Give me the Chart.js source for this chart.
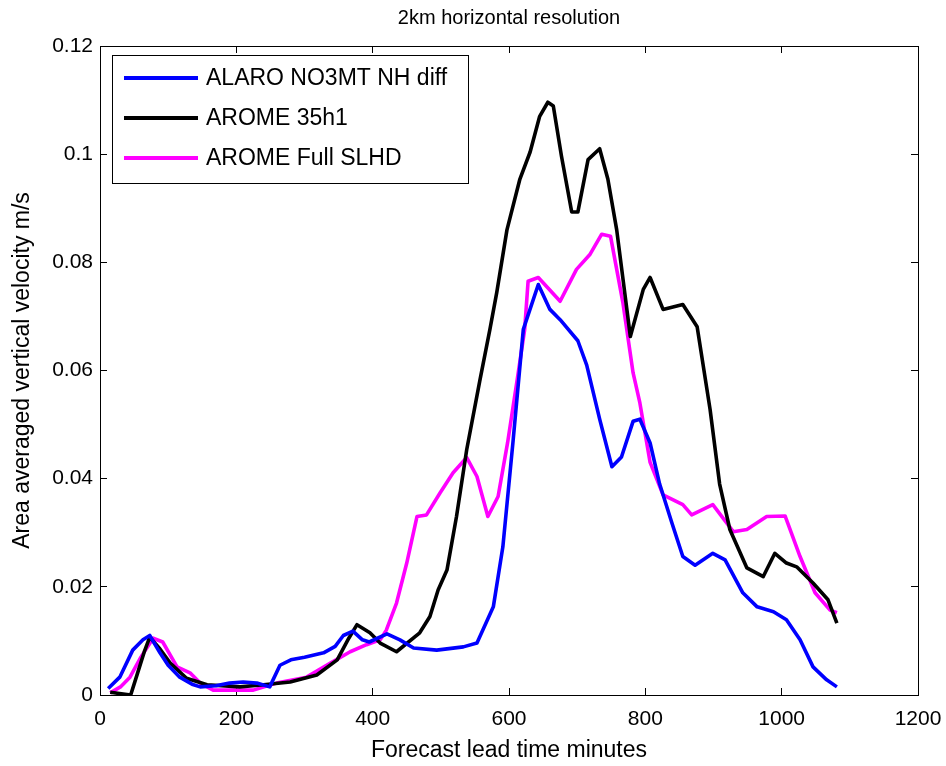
<!DOCTYPE html>
<html>
<head>
<meta charset="utf-8">
<script src="https://cdn.jsdelivr.net/npm/chart.js@4/dist/chart.umd.min.js"></script>
<style>
  html, body { margin: 0; padding: 0; background: #fff; }
  #wrap { width: 946px; height: 766px; }
</style>
</head>
<body>
<div id="wrap"><canvas id="c" width="946" height="766"></canvas></div>
<script>
const chartTitle = "2km horizontal resolution";
const xAxisTitle = "Forecast lead time minutes";
const yAxisTitle = "Area averaged vertical velocity m/s";
const xTicks = [0, 200, 400, 600, 800, 1000, 1200];
const yTicks = [0, 0.02, 0.04, 0.06, 0.08, 0.1, 0.12];
const seriesNames = ["ALARO NO3MT NH diff", "AROME 35h1", "AROME Full SLHD"];
const seriesColors = ["#0000ff", "#000000", "#ff00ff"];

const alaroMinutes = [12, 29, 48, 63, 73, 88, 100, 117, 135, 147, 170, 190, 210, 230, 249, 264, 280, 300, 328, 345, 357, 371, 385, 395, 421, 440, 460, 494, 533, 553, 577, 591, 606, 621, 643, 660, 675, 701, 714, 733, 751, 765, 782, 792, 807, 821, 839, 855, 873, 899, 917, 943, 964, 988, 1007, 1027, 1046, 1066, 1081];
const alaroVelocity = [0.0012, 0.0033, 0.0083, 0.0102, 0.011, 0.0078, 0.0055, 0.0033, 0.002, 0.0015, 0.0017, 0.0022, 0.0024, 0.0022, 0.0015, 0.0055, 0.0065, 0.007, 0.0078, 0.009, 0.011, 0.0118, 0.0102, 0.0098, 0.0113, 0.0102, 0.0087, 0.0083, 0.0089, 0.0096, 0.0163, 0.0274, 0.047, 0.0676, 0.0759, 0.0713, 0.0694, 0.0655, 0.061, 0.051, 0.0422, 0.044, 0.0506, 0.051, 0.0466, 0.039, 0.0318, 0.0256, 0.024, 0.0262, 0.025, 0.0189, 0.0163, 0.0154, 0.0139, 0.0102, 0.0052, 0.0028, 0.0015];

const arome35Minutes = [15, 45, 55, 65, 73, 88, 103, 127, 157, 205, 240, 279, 318, 348, 365, 377, 396, 411, 435, 469, 484, 496, 509, 523, 538, 557, 572, 582, 597, 616, 631, 645, 657, 665, 677, 692, 701, 716, 733, 745, 758, 778, 797, 807, 826, 855, 876, 895, 909, 924, 949, 973, 990, 1007, 1022, 1046, 1068, 1081];
const arome35Velocity = [0.0005, 0, 0.004, 0.008, 0.0107, 0.0085, 0.0059, 0.0031, 0.0019, 0.0015, 0.0019, 0.0024, 0.0037, 0.0065, 0.0105, 0.013, 0.0115, 0.0096, 0.008, 0.0115, 0.0145, 0.0194, 0.0231, 0.033, 0.0454, 0.058, 0.0676, 0.0744, 0.086, 0.0954, 0.1004, 0.107, 0.1096, 0.1089, 0.0996, 0.0893, 0.0893, 0.099, 0.101, 0.0954, 0.086, 0.0663, 0.075, 0.0772, 0.0713, 0.0722, 0.0681, 0.0528, 0.039, 0.0306, 0.0235, 0.0219, 0.0262, 0.0244, 0.0237, 0.0207, 0.0176, 0.0133];

const aromeSlhdMinutes = [15, 30, 44, 60, 78, 92, 113, 132, 147, 166, 225, 259, 303, 338, 367, 391, 411, 420, 435, 450, 465, 479, 499, 518, 538, 553, 569, 584, 598, 612, 623, 628, 643, 675, 699, 719, 736, 749, 767, 782, 792, 807, 826, 855, 868, 899, 929, 949, 978, 1005, 1027, 1049, 1071, 1081];
const aromeSlhdVelocity = [0.0004, 0.0015, 0.0033, 0.007, 0.0105, 0.0098, 0.0052, 0.0041, 0.0022, 0.0009, 0.0009, 0.0022, 0.0033, 0.0059, 0.008, 0.0093, 0.0102, 0.012, 0.017, 0.0244, 0.033, 0.0333, 0.0374, 0.0411, 0.0439, 0.0404, 0.033, 0.0367, 0.0467, 0.0583, 0.0676, 0.0765, 0.0772, 0.0728, 0.0787, 0.0815, 0.0852, 0.0848, 0.0726, 0.0596, 0.054, 0.043, 0.037, 0.0352, 0.0333, 0.0352, 0.0302, 0.0306, 0.033, 0.0331, 0.0256, 0.0189, 0.0157, 0.0152];

function pts(xs, ys) { return xs.map((x, i) => ({ x: x, y: ys[i] })); }

const FONT = "'Liberation Sans', Arial, Helvetica, sans-serif";

const legendBox = {
  id: 'legendBox',
  afterDatasetsDraw(chart) {
    const ctx = chart.ctx;
    const a = chart.chartArea;
    const x0 = a.left + 12, y0 = a.top + 9, w = 356, h = 128;
    ctx.save();
    ctx.fillStyle = '#fff';
    ctx.fillRect(x0, y0, w, h);
    ctx.strokeStyle = '#000';
    ctx.lineWidth = 1;
    ctx.strokeRect(x0 + 0.5, y0 + 0.5, w, h);
    ctx.font = '23px ' + FONT;
    ctx.textBaseline = 'middle';
    ctx.textAlign = 'left';
    chart.data.datasets.forEach((ds, i) => {
      const cy = y0 + 23 + i * 40;
      ctx.strokeStyle = ds.borderColor;
      ctx.lineWidth = 4;
      ctx.beginPath();
      ctx.moveTo(x0 + 12, cy);
      ctx.lineTo(x0 + 86, cy);
      ctx.stroke();
      ctx.fillStyle = '#000';
      ctx.fillText(ds.label, x0 + 94, cy + 1);
    });
    ctx.restore();
  }
};

const tickFmt = v => String(+Number(v).toFixed(4));
const noPad = s => { s.paddingLeft = 0; s.paddingRight = 0; s.paddingTop = 0; s.paddingBottom = 0; };

new Chart(document.getElementById('c'), {
  type: 'scatter',
  data: {
    datasets: [
      { label: seriesNames[0], data: pts(alaroMinutes, alaroVelocity), borderColor: seriesColors[0], backgroundColor: seriesColors[0] },
      { label: seriesNames[1], data: pts(arome35Minutes, arome35Velocity), borderColor: seriesColors[1], backgroundColor: seriesColors[1] },
      { label: seriesNames[2], data: pts(aromeSlhdMinutes, aromeSlhdVelocity), borderColor: seriesColors[2], backgroundColor: seriesColors[2] }
    ].map(d => Object.assign(d, { showLine: true, borderWidth: 3.6, pointRadius: 0, tension: 0, borderJoinStyle: 'round' }))
  },
  options: {
    responsive: false,
    animation: false,
    layout: { padding: 0 },
    plugins: {
      legend: { display: false },
      tooltip: { enabled: false },
      title: { display: false }
    },
    scales: {
      x: {
        type: 'linear', position: 'bottom', min: 0, max: 1200,
        afterBuildTicks: s => { s.ticks = xTicks.map(v => ({ value: v })); },
        afterFit: s => { s.height = 71; noPad(s); },
        ticks: { color: '#000', font: { family: FONT, size: 21 }, padding: 19, callback: tickFmt },
        grid: { drawOnChartArea: false, tickLength: -7, color: '#000' },
        border: { color: '#000', width: 1 },
        title: { display: true, text: xAxisTitle, color: '#000', font: { family: FONT, size: 23 }, padding: { top: 0, bottom: 2 } }
      },
      x2: {
        type: 'linear', position: 'top', min: 0, max: 1200,
        afterBuildTicks: s => { s.ticks = xTicks.map(v => ({ value: v })); },
        afterFit: s => { s.height = 46; noPad(s); },
        ticks: { display: false },
        grid: { drawOnChartArea: false, tickLength: -7, color: '#000' },
        border: { color: '#000', width: 1 },
        title: { display: true, text: chartTitle, color: '#000', font: { family: FONT, size: 20 }, padding: { top: 6, bottom: 0 } }
      },
      y: {
        type: 'linear', position: 'left', min: 0, max: 0.12,
        afterBuildTicks: s => { s.ticks = yTicks.map(v => ({ value: v })); },
        afterFit: s => { s.width = 100; noPad(s); },
        ticks: { color: '#000', font: { family: FONT, size: 21 }, padding: 14, callback: tickFmt },
        grid: { drawOnChartArea: false, tickLength: -7, color: '#000' },
        border: { color: '#000', width: 1 },
        title: { display: true, text: yAxisTitle, color: '#000', font: { family: FONT, size: 23 }, padding: { top: 9, bottom: 0 } }
      },
      y2: {
        type: 'linear', position: 'right', min: 0, max: 0.12,
        afterBuildTicks: s => { s.ticks = yTicks.map(v => ({ value: v })); },
        afterFit: s => { s.width = 28; noPad(s); },
        ticks: { display: false },
        grid: { drawOnChartArea: false, tickLength: -7, color: '#000' },
        border: { color: '#000', width: 1 }
      }
    }
  },
  plugins: [legendBox]
});
</script>
</body>
</html>
